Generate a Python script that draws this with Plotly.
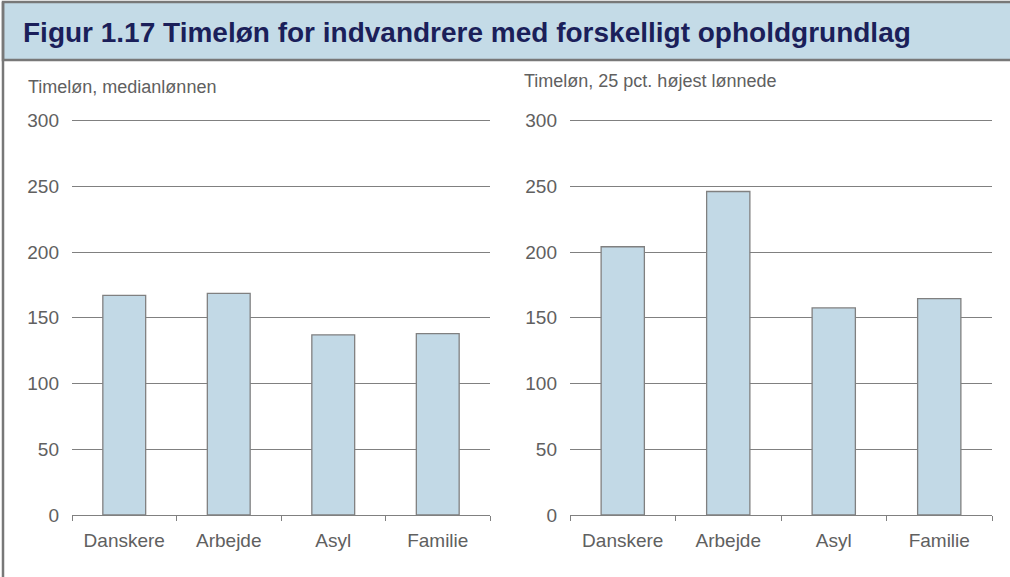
import plotly.graph_objects as go

categories = ["Danskere", "Arbejde", "Asyl", "Familie"]
median_wage = [167, 168.5, 137, 138]
top25_wage = [204, 246, 157.5, 164.5]
y_ticks = [0, 50, 100, 150, 200, 250, 300]

title = "Figur 1.17 Timeløn for indvandrere med forskelligt opholdgrundlag"
left_label = "Timeløn, medianlønnen"
right_label = "Timeløn, 25 pct. højest lønnede"

W, H = 1010, 577
bar_fill = "#C2D9E6"
edge = "#808080"
text_grey = "#606060"
font = "Liberation Sans, Arial, sans-serif"

fig = go.Figure()

fig.add_trace(go.Bar(
    x=categories, y=median_wage, xaxis="x", yaxis="y",
    marker=dict(color=bar_fill, line=dict(color=edge, width=1.3)),
    width=0.41, showlegend=False
))
fig.add_trace(go.Bar(
    x=categories, y=top25_wage, xaxis="x2", yaxis="y2",
    marker=dict(color=bar_fill, line=dict(color=edge, width=1.3)),
    width=0.41, showlegend=False
))

y_top = 1 - 120.5 / H
y_bot = 1 - 515 / H

xaxis_style = dict(
    type="category", range=[-0.5, 3.5],
    showgrid=False, zeroline=False, automargin=False,
    showline=True, mirror=True, linecolor=edge, linewidth=1.3,
    ticks="outside", tickson="boundaries", ticklen=5,
    tickcolor=edge, tickwidth=1.3,
    ticklabelstandoff=8,
    tickfont=dict(size=19, color=text_grey, family=font),
    fixedrange=True,
)
yaxis_style = dict(
    range=[0, 300], tickvals=y_ticks,
    showgrid=True, gridcolor=edge, gridwidth=1.3,
    zeroline=False, showline=False, ticks="", automargin=False,
    ticklabelstandoff=12,
    tickfont=dict(size=19, color=text_grey, family=font),
    domain=[y_bot, y_top], fixedrange=True,
)

fig.update_layout(
    width=W, height=H,
    margin=dict(l=0, r=0, t=0, b=0, pad=0, autoexpand=False),
    paper_bgcolor="white", plot_bgcolor="white",
    font=dict(family=font),
    xaxis=dict(xaxis_style, domain=[72 / W, 490 / W], anchor="y"),
    yaxis=dict(yaxis_style, anchor="x"),
    xaxis2=dict(xaxis_style, domain=[570 / W, 992 / W], anchor="y2"),
    yaxis2=dict(yaxis_style, anchor="x2"),
)

# title banner and frame
fig.add_shape(type="rect", xref="paper", yref="paper",
              x0=3 / W, x1=1.01, y0=1 - 60 / H, y1=1 - 2 / H,
              fillcolor="#C4DBE7", line=dict(color="#787878", width=2.5),
              layer="below")
fig.add_shape(type="line", xref="paper", yref="paper",
              x0=3 / W, x1=3 / W, y0=-0.01, y1=1 - 2 / H,
              line=dict(color="#787878", width=2.5))

fig.add_annotation(
    text=title, xref="paper", yref="paper",
    x=21 / W, y=1 - 33 / H, xanchor="left", yanchor="middle",
    showarrow=False,
    font=dict(size=28, color="#1B1F5A", family=font, weight="bold"),
)
fig.add_annotation(
    text=left_label, xref="paper", yref="paper",
    x=26 / W, y=1 - 87 / H, xanchor="left", yanchor="middle",
    showarrow=False, font=dict(size=18, color=text_grey, family=font),
)
fig.add_annotation(
    text=right_label, xref="paper", yref="paper",
    x=522 / W, y=1 - 81 / H, xanchor="left", yanchor="middle",
    showarrow=False, font=dict(size=18, color=text_grey, family=font),
)

# pin the graph to the top-left corner of the window
pin = (
    "document.body.style.margin='0';"
    "document.body.style.overflow='hidden';"
    "var d=document.getElementById('{plot_id}');"
    "d.style.position='fixed';d.style.left='0';d.style.top='0';"
)
fig.write_html("out.html", config={"displayModeBar": False}, post_script=pin)
